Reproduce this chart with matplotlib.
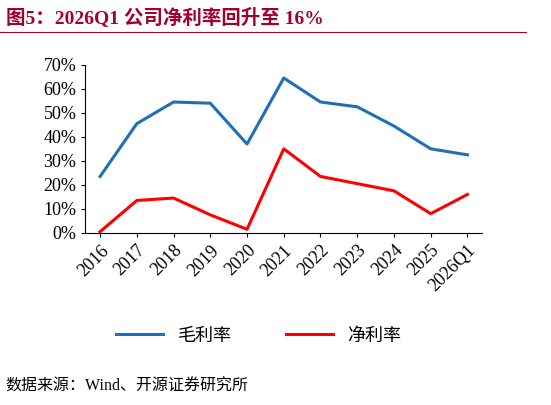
import matplotlib.pyplot as plt
from matplotlib.lines import Line2D

years = ['2016', '2017', '2018', '2019', '2020', '2021', '2022', '2023', '2024', '2025', '2026Q1']
gross = [23.5, 45.5, 54.5, 54.0, 37.0, 64.5, 54.5, 52.5, 44.5, 35.0, 32.5]
net = [0.5, 13.5, 14.5, 7.5, 1.5, 35.0, 23.5, 20.5, 17.5, 8.0, 16.0]

plt.rcParams['font.family'] = ['Times New Roman', 'Liberation Serif', 'Noto Sans CJK SC']
cjk = ['Liberation Serif', 'Noto Sans CJK SC']

fig = plt.figure(figsize=(5.51, 4.05), dpi=100)
ax = fig.add_axes([0.155, 0.425, 0.72, 0.415])

x = range(len(years))
ax.plot(x, gross, color='#1F6FB8', lw=2.2)
ax.plot(x, net, color='#FF0000', lw=2.2)
ax.set_ylim(0, 70)
ax.set_yticks(range(0, 71, 10))
ax.set_yticklabels([f'{v}%' for v in range(0, 71, 10)], fontsize=13)
ax.set_xlim(-0.4, len(years) - 0.6)
ax.set_xticks(list(x))
ax.set_xticklabels(years, rotation=45, ha='right', rotation_mode='anchor', fontsize=13)
for s in ['top', 'right']:
    ax.spines[s].set_visible(False)
ax.tick_params(direction='out', length=3)

handles = [Line2D([], [], color='#1F6FB8', lw=2.2), Line2D([], [], color='#FF0000', lw=2.2)]
fig.legend(handles, ['毛利率', '净利率'], loc='center', bbox_to_anchor=(0.47, 0.17), ncol=2,
           frameon=False, prop={'family': cjk, 'size': 13}, handlelength=2.6, columnspacing=3)

fig.text(0.01, 0.955, '图5：2026Q1 公司净利率回升至 16%', fontsize=14, fontweight='bold',
         color='#A5002A', family=cjk, va='center')
fig.add_artist(Line2D([0.0, 0.955], [0.92, 0.92], color='#A5002A', lw=0.8))
fig.text(0.01, 0.045, '数据来源：Wind、开源证券研究所', fontsize=11.5, family=cjk, va='center')

fig.savefig('out.png', dpi=100)
